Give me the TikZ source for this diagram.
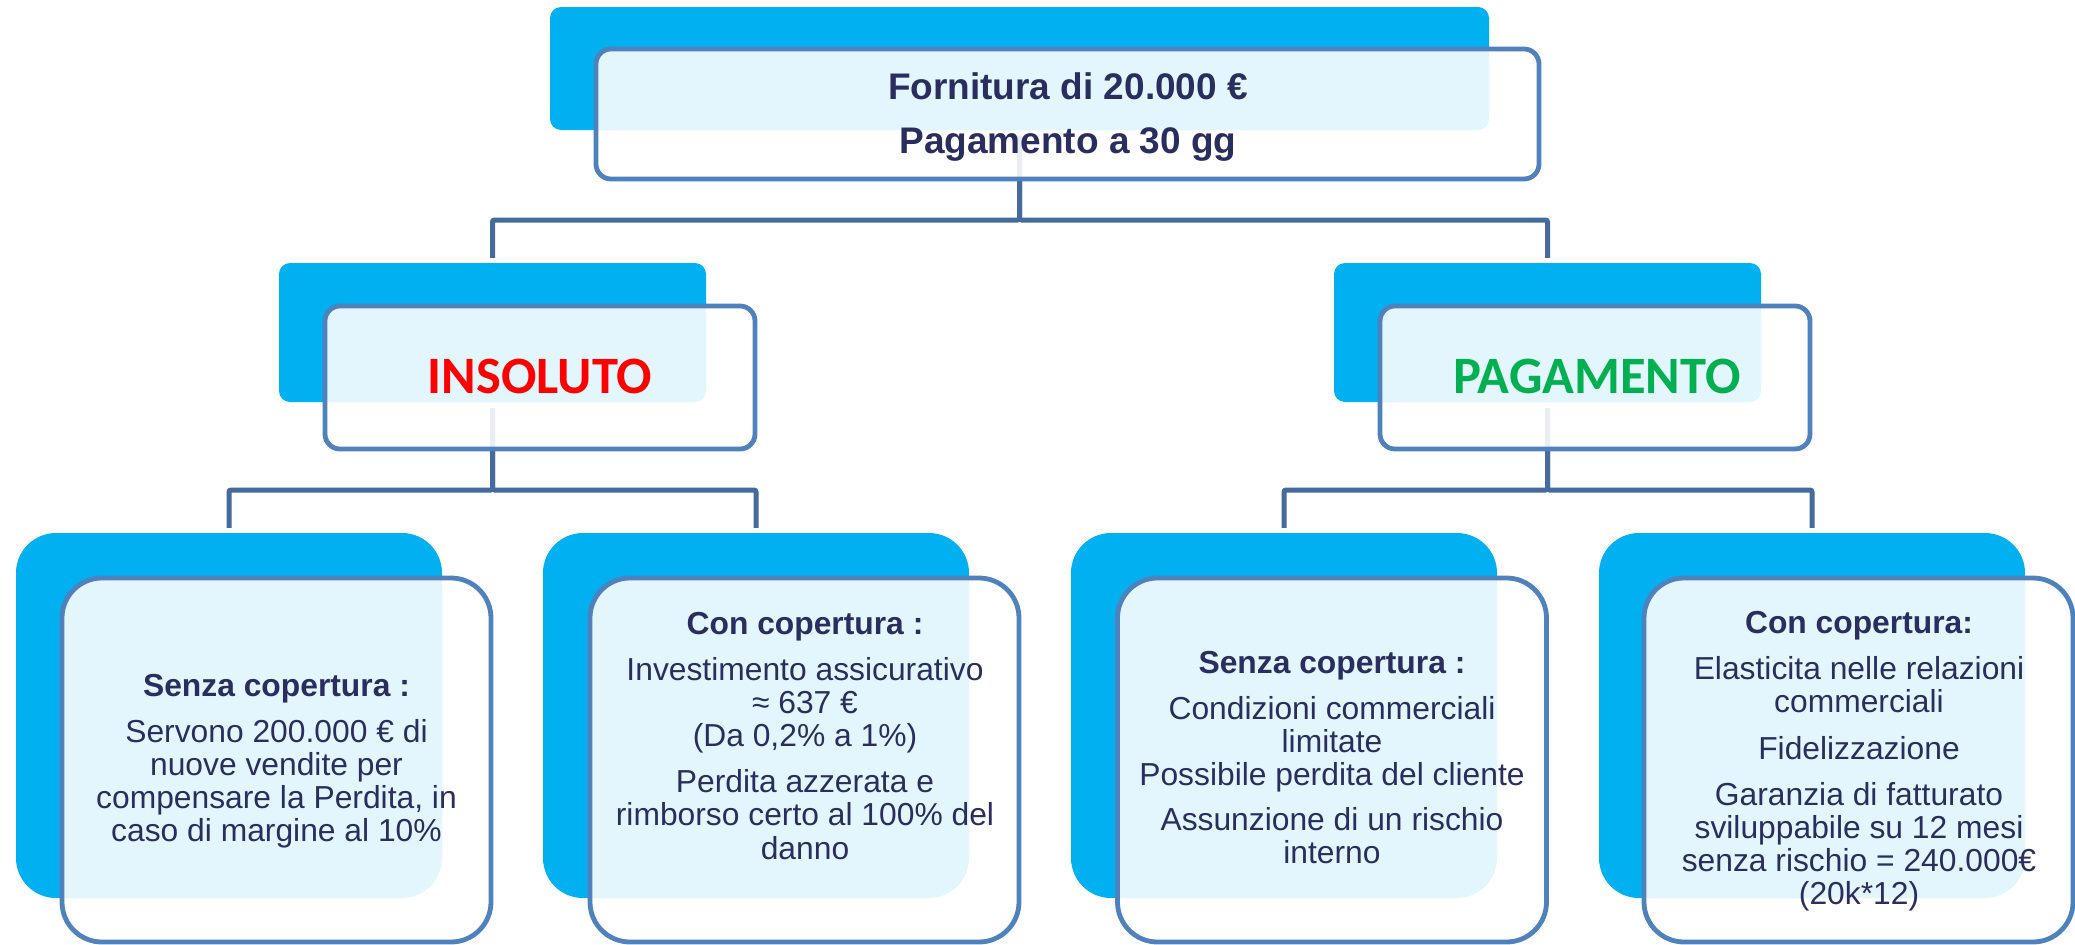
\documentclass[tikz,border=0pt]{standalone}
\usepackage{fontspec}
\setmainfont{Liberation Sans}
\newfontfamily\carlito{Carlito}
\definecolor{bblue}{RGB}{0,176,240}
\definecolor{outl}{RGB}{79,129,189}
\definecolor{connc}{RGB}{68,106,158}
\definecolor{navy}{RGB}{42,46,95}
\definecolor{pgreen}{RGB}{0,176,80}
\begin{document}
\begin{tikzpicture}[x=1pt,y=-1pt,
  backS/.style={fill=bblue, draw=none, rounded corners=11pt, inner sep=0},
  backL/.style={fill=bblue, draw=none, rounded corners=40pt, inner sep=0, minimum width=426, minimum height=365},
  frontS/.style={draw=outl, line width=4.8pt, fill=white, fill opacity=0.89, text opacity=1, rounded corners=15pt, inner sep=0},
  frontL/.style={draw=outl, line width=4.8pt, fill=white, fill opacity=0.89, text opacity=1, rounded corners=40pt, inner sep=0, minimum width=429, minimum height=364},
  conn/.style={draw=connc, line width=5pt, rounded corners=2pt, shorten <=6pt, shorten >=5pt},
  txt/.style={text=navy, align=center, inner sep=0, font=\fontsize{31.8}{33.2}\selectfont},
  big/.style={inner sep=0, font=\carlito\bfseries\fontsize{52.5}{56}\selectfont}
]
\useasboundingbox (0,0) rectangle (2075,945);

% back rectangles
\node[backS, minimum width=939, minimum height=123] (topb) at (1019.5,68.5) {};
\node[backS, minimum width=427, minimum height=139] (insb) at (492.5,332.5) {};
\node[backS, minimum width=427, minimum height=139] (payb) at (1547.5,332.5) {};
\node[backL] (b1) at (229,715.5) {};
\node[backL] (b2) at (756,715.5) {};
\node[backL] (b3) at (1284,715.5) {};
\node[backL] (b4) at (1812,715.5) {};

% connectors
\coordinate (bar0) at (0,220);
\coordinate (bar1) at (0,490);
\draw[conn] (topb.south) -- (topb.south |- bar0) -| (insb.north);
\draw[conn] (topb.south) -- (topb.south |- bar0) -| (payb.north);
\draw[conn] (insb.south) -- (insb.south |- bar1) -| (b1.north);
\draw[conn] (insb.south) -- (insb.south |- bar1) -| (b2.north);
\draw[conn] (payb.south) -- (payb.south |- bar1) -| (b3.north);
\draw[conn] (payb.south) -- (payb.south |- bar1) -| (b4.north);

% front boxes
\node[frontS, minimum width=943, minimum height=130] (topf) at (1067.5,114) {};
\node[frontS, minimum width=430, minimum height=143] (insf) at (540,377.5) {};
\node[frontS, minimum width=430, minimum height=143] (payf) at (1595,377.5) {};
\node[frontL] (f1) at (276.5,760) {};
\node[frontL] (f2) at (804.5,760) {};
\node[frontL] (f3) at (1332,760) {};
\node[frontL] (f4) at (1858.5,760) {};

% texts
\node[txt, anchor=north, font=\bfseries\fontsize{37}{40}\selectfont] (t0) at (1068,72)
  {Fornitura di 20.000 €\\[14pt] Pagamento a 30 gg};
\node[big, anchor=base, text=red] (tins) at (540,393) {INSOLUTO};
\node[big, anchor=base, text=pgreen] (tpay) at (1597,393) {PAGAMENTO};

\node[txt, anchor=north] (t1) at (276.5,674)
  {{\bfseries Senza copertura :}\\[12.5pt]
   Servono 200.000 € di\\ nuove vendite per\\ compensare la Perdita, in\\ caso di margine al 10\%};
\node[txt, anchor=north] (t2) at (805,612)
  {{\bfseries Con copertura :}\\[12.5pt]
   Investimento assicurativo\\ ≈ 637 €\\ (Da 0,2\% a 1\%)\\[13pt]
   Perdita azzerata e\\ rimborso certo al 100\% del\\ danno};
\node[txt, anchor=north] (t3) at (1332,651)
  {{\bfseries Senza copertura :}\\[12.5pt]
   Condizioni commerciali\\ limitate\\ Possibile perdita del cliente\\[12pt]
   Assunzione di un rischio\\ interno};
\node[txt, anchor=north] (t4) at (1859,611)
  {{\bfseries Con copertura:}\\[13pt]
   Elasticita nelle relazioni\\ commerciali\\[13pt]
   Fidelizzazione\\[13pt]
   Garanzia di fatturato\\ sviluppabile su 12 mesi\\ senza rischio = 240.000€\\ (20k*12)};
\end{tikzpicture}
\end{document}
